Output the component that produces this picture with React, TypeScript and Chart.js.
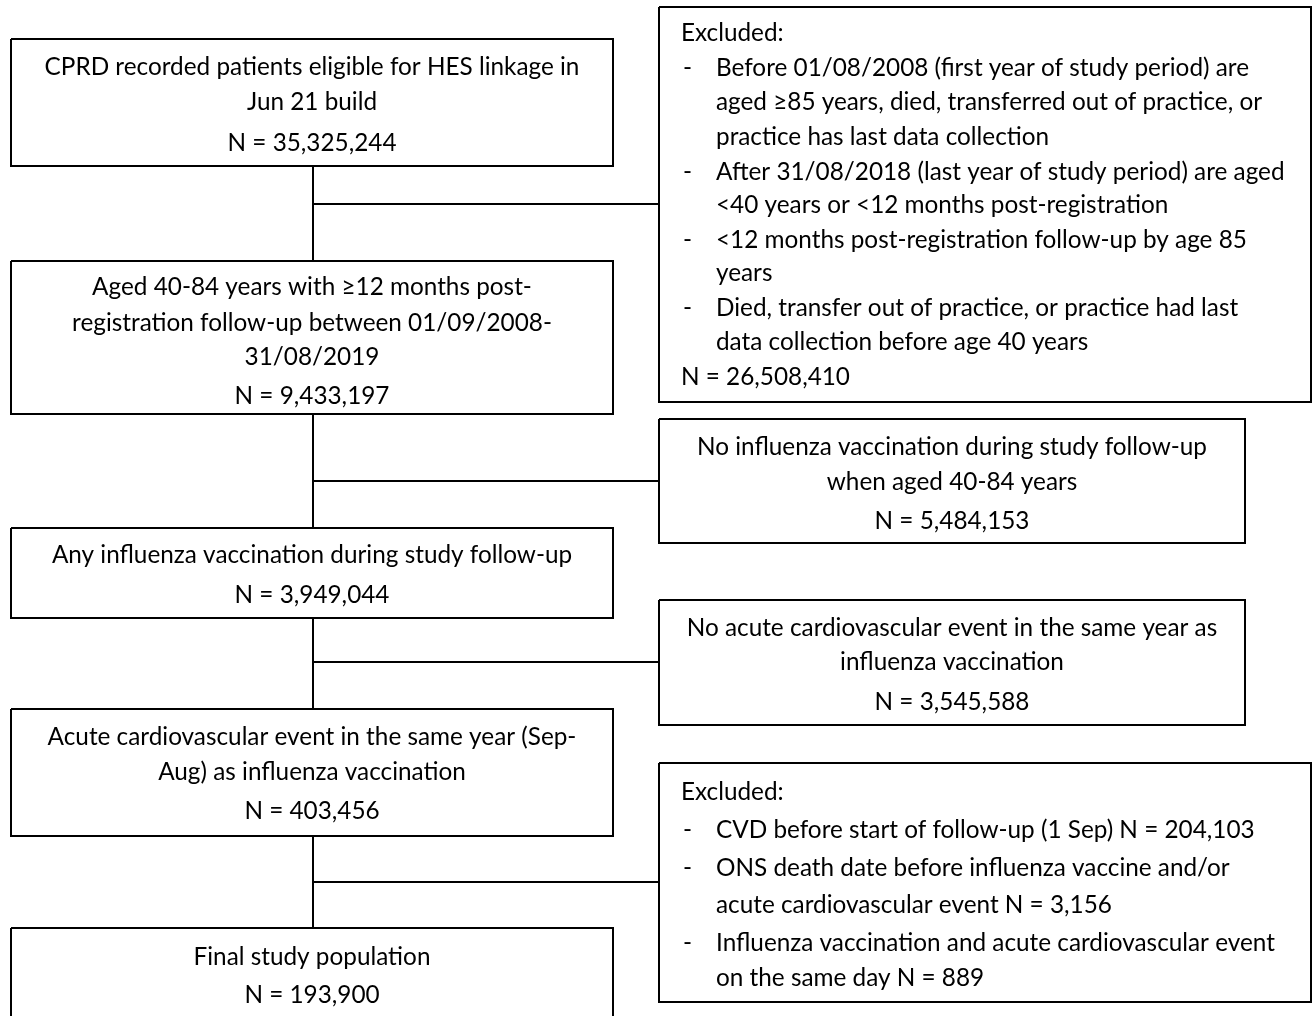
import React, { useEffect, useRef } from "react";
import { Chart, registerables } from "chart.js";

Chart.register(...registerables);

// ---------- DATA ----------
const mainSteps: string[][] = [
  ["CPRD recorded patients eligible for HES linkage in", "Jun 21 build"],
  ["Aged 40-84 years with \u226512 months post-", "registration follow-up between 01/09/2008-", "31/08/2019"],
  ["Any influenza vaccination during study follow-up"],
  ["Acute cardiovascular event in the same year (Sep-", "Aug) as influenza vaccination"],
  ["Final study population"],
];
const mainCounts: number[] = [35325244, 9433197, 3949044, 403456, 193900];

const excl1Items: string[][] = [
  ["Before 01/08/2008 (first year of study period) are", "aged \u226585 years, died, transferred out of practice, or", "practice has last data collection"],
  ["After 31/08/2018 (last year of study period) are aged", "<40 years or <12 months post-registration"],
  ["<12 months post-registration follow-up by age 85", "years"],
  ["Died, transfer out of practice, or practice had last", "data collection before age 40 years"],
];
const excl1Count = 26508410;

const excl2Lines: string[] = ["No influenza vaccination during study follow-up", "when aged 40-84 years"];
const excl2Count = 5484153;

const excl3Lines: string[] = ["No acute cardiovascular event in the same year as", "influenza vaccination"];
const excl3Count = 3545588;

const excl4Items: string[][] = [
  ["CVD before start of follow-up (1 Sep)"],
  ["ONS death date before influenza vaccine and/or", "acute cardiovascular event"],
  ["Influenza vaccination and acute cardiovascular event", "on the same day"],
];
const excl4Counts: number[] = [204103, 3156, 889];

const excludedLabel = "Excluded:";

// ---------- LAYOUT (positions / sizes, in page units) ----------
const W = 1314;
const H = 1016;
const mainBoxes = [
  { x0: 11, x1: 613, y0: 39, y1: 166, ys: [67, 102, 143] },
  { x0: 11, x1: 613, y0: 261, y1: 414, ys: [287, 323, 357, 396] },
  { x0: 11, x1: 613, y0: 528, y1: 618, ys: [555, 595] },
  { x0: 11, x1: 613, y0: 709, y1: 836, ys: [737, 772, 811] },
  { x0: 11, x1: 613, y0: 928, y1: 1040, ys: [957, 995] },
];
const sideBoxes = [
  { x0: 659, x1: 1311, y0: 7, y1: 402 },
  { x0: 659, x1: 1245, y0: 419, y1: 543, ys: [447, 482, 521] },
  { x0: 659, x1: 1245, y0: 600, y1: 725, ys: [628, 662, 702] },
  { x0: 659, x1: 1311, y0: 763, y1: 1002 },
];
const excl1Ys = { head: 33, items: [[68, 102, 137], [172, 205], [240, 273], [308, 342]], n: 377 };
const excl4Ys = { head: 792, items: [[830], [868, 905], [943, 978]] };
const trunkX = 313;
const branchYs = [204, 481, 662, 882];
const textLeft = 681;
const dashX = 683;
const bulletX = 716;
const refLine = mainSteps[0][0];
const refWidth = 535;

const fmt = (n: number) => "N = " + n.toLocaleString("en-GB");

function rectPts(b: { x0: number; x1: number; y0: number; y1: number }) {
  return [
    { x: b.x0, y: b.y0 },
    { x: b.x1, y: b.y0 },
    { x: b.x1, y: b.y1 },
    { x: b.x0, y: b.y1 },
    { x: b.x0, y: b.y0 },
  ];
}

export default function App() {
  const ref = useRef<HTMLCanvasElement | null>(null);

  useEffect(() => {
    document.body.style.margin = "0";
    const canvas = ref.current;
    if (!canvas) return;

    const lineDs = (data: { x: number; y: number }[]) => ({
      data,
      showLine: true,
      borderColor: "#000",
      borderWidth: 2,
      pointRadius: 0,
      fill: false,
      tension: 0,
      clip: false as any,
    });

    const datasets: any[] = [];
    mainBoxes.forEach((b) => datasets.push(lineDs(rectPts(b))));
    sideBoxes.forEach((b) => datasets.push(lineDs(rectPts(b))));
    for (let i = 0; i < mainBoxes.length - 1; i++) {
      datasets.push(lineDs([{ x: trunkX, y: mainBoxes[i].y1 }, { x: trunkX, y: mainBoxes[i + 1].y0 }]));
    }
    branchYs.forEach((y) => datasets.push(lineDs([{ x: trunkX, y }, { x: sideBoxes[0].x0, y }])));

    const textPlugin = {
      id: "flowText",
      afterDatasetsDraw(chart: any) {
        const ctx = chart.ctx as CanvasRenderingContext2D;
        const xs = chart.scales.x;
        const ysc = chart.scales.y;
        const px = (v: number) => xs.getPixelForValue(v);
        const py = (v: number) => ysc.getPixelForValue(v);
        ctx.save();
        ctx.font = "20px Lato";
        const w20 = ctx.measureText(refLine).width;
        const size = (20 * refWidth) / w20;
        ctx.font = `${size.toFixed(2)}px Lato`;
        ctx.fillStyle = "#000";
        ctx.textBaseline = "middle";

        // main boxes (centered)
        ctx.textAlign = "center";
        mainBoxes.forEach((b, i) => {
          const lines = [...mainSteps[i], fmt(mainCounts[i])];
          const cx = (b.x0 + b.x1) / 2;
          lines.forEach((t, j) => ctx.fillText(t, px(cx), py(b.ys[j])));
        });
        // side boxes 2 & 3 (centered)
        [
          { b: sideBoxes[1], lines: [...excl2Lines, fmt(excl2Count)] },
          { b: sideBoxes[2], lines: [...excl3Lines, fmt(excl3Count)] },
        ].forEach(({ b, lines }) => {
          const cx = (b.x0 + b.x1) / 2;
          lines.forEach((t, j) => ctx.fillText(t, px(cx), py((b as any).ys[j])));
        });

        // side box 1 (left aligned list)
        ctx.textAlign = "left";
        ctx.fillText(excludedLabel, px(textLeft), py(excl1Ys.head));
        excl1Items.forEach((item, i) => {
          ctx.fillText("-", px(dashX), py(excl1Ys.items[i][0]));
          item.forEach((t, j) => ctx.fillText(t, px(bulletX), py(excl1Ys.items[i][j])));
        });
        ctx.fillText(fmt(excl1Count), px(textLeft), py(excl1Ys.n));

        // side box 4
        ctx.fillText(excludedLabel, px(textLeft), py(excl4Ys.head));
        excl4Items.forEach((item, i) => {
          ctx.fillText("-", px(dashX), py(excl4Ys.items[i][0]));
          item.forEach((t, j) => {
            const txt = j === item.length - 1 ? t + " " + fmt(excl4Counts[i]) : t;
            ctx.fillText(txt, px(bulletX), py(excl4Ys.items[i][j]));
          });
        });
        ctx.restore();
      },
    };

    const chart = new Chart(canvas, {
      type: "scatter",
      data: { datasets },
      options: {
        animation: false,
        responsive: true,
        maintainAspectRatio: false,
        layout: { padding: 0 },
        plugins: { legend: { display: false }, tooltip: { enabled: false } },
        events: [],
        scales: {
          x: { type: "linear", min: 0, max: W, display: false },
          y: { type: "linear", min: 0, max: H, reverse: true, display: false },
        },
      },
      plugins: [textPlugin],
    });
    return () => chart.destroy();
  }, []);

  return (
    <div style={{ width: W, height: H, position: "relative", background: "#fff" }}>
      <canvas ref={ref} />
    </div>
  );
}
